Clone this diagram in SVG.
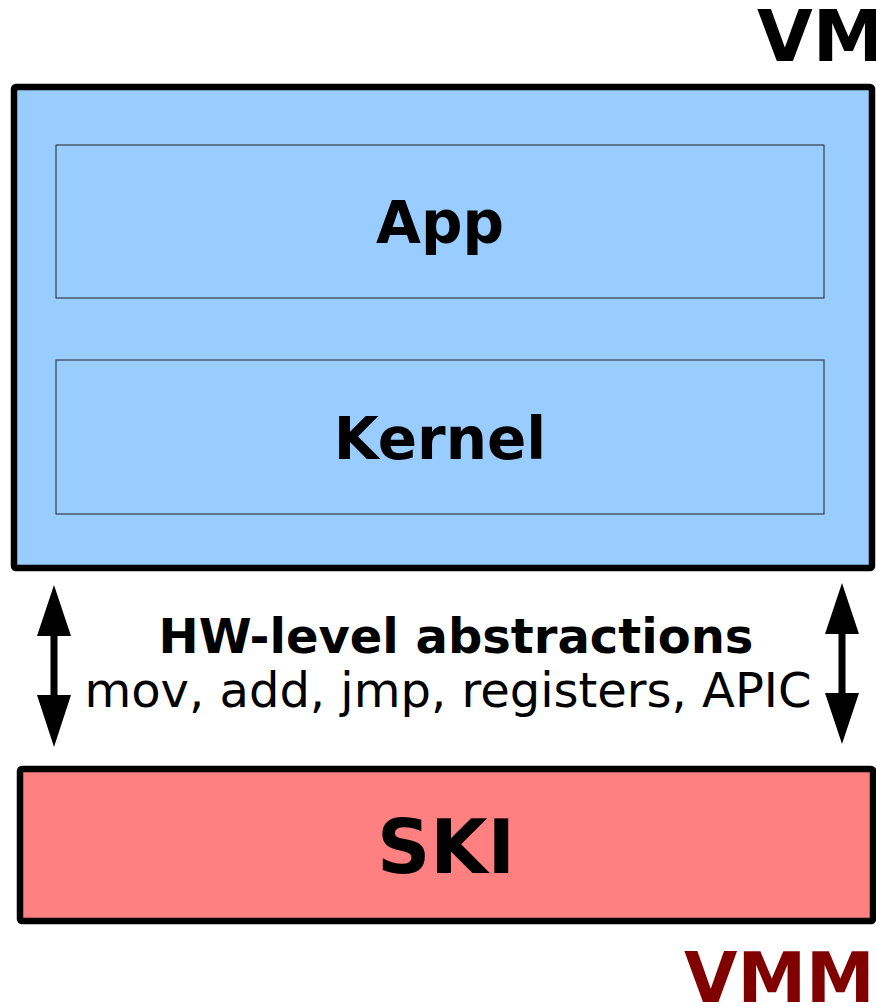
<svg xmlns="http://www.w3.org/2000/svg" width="876" height="1005" viewBox="0 0 876 1005">
<style>
.box{stroke:#000;stroke-width:6.5;stroke-linejoin:round}
.inner{fill:none;stroke:#222;stroke-width:1}
.t{font-family:"DejaVu Sans",sans-serif;text-anchor:middle}
.b{font-weight:bold}
.s{text-anchor:start}
.arrow{fill:#000;stroke:none}
</style>
<rect width="876" height="1005" fill="#fff"/>
<g id="vm-label"><text class="t b s" x="757" y="61" font-size="72" fill="#000">VM</text></g>
<g id="vm">
<rect class="box" x="14" y="87" width="858" height="481" rx="2" fill="#99ccff"/>
</g>
<g id="app">
<rect class="inner" x="56" y="145" width="768" height="153"/>
<text class="t b" x="440" y="243" font-size="58" fill="#000">App</text>
</g>
<g id="kernel">
<rect class="inner" x="56" y="360" width="768" height="154"/>
<text class="t b" x="440" y="459" font-size="58" fill="#000">Kernel</text>
</g>
<g id="hw-label">
<text class="t b" x="456" y="653" font-size="48" fill="#000">HW-level abstractions</text>
<text class="t" x="448" y="707" font-size="48" fill="#000">mov, add, jmp, registers, APIC</text>
</g>
<g id="connectors">
<path class="arrow" d="M54,585 L71,636 L57.5,636 L57.5,695 L71,695 L54,747 L37,695 L50.5,695 L50.5,636 L37,636 Z"/>
<path class="arrow" d="M842,583 L859,634 L845.5,634 L845.5,693 L859,693 L842,744 L825,693 L838.5,693 L838.5,634 L825,634 Z"/>
</g>
<g id="ski">
<rect class="box" x="20" y="769" width="853" height="152" rx="2" fill="#ff8080"/>
<text class="t b" x="446" y="873" font-size="74" fill="#000">SKI</text>
</g>
<g id="vmm-label"><text class="t b s" x="684" y="1002" font-size="69" fill="#800000">VMM</text></g>
</svg>
